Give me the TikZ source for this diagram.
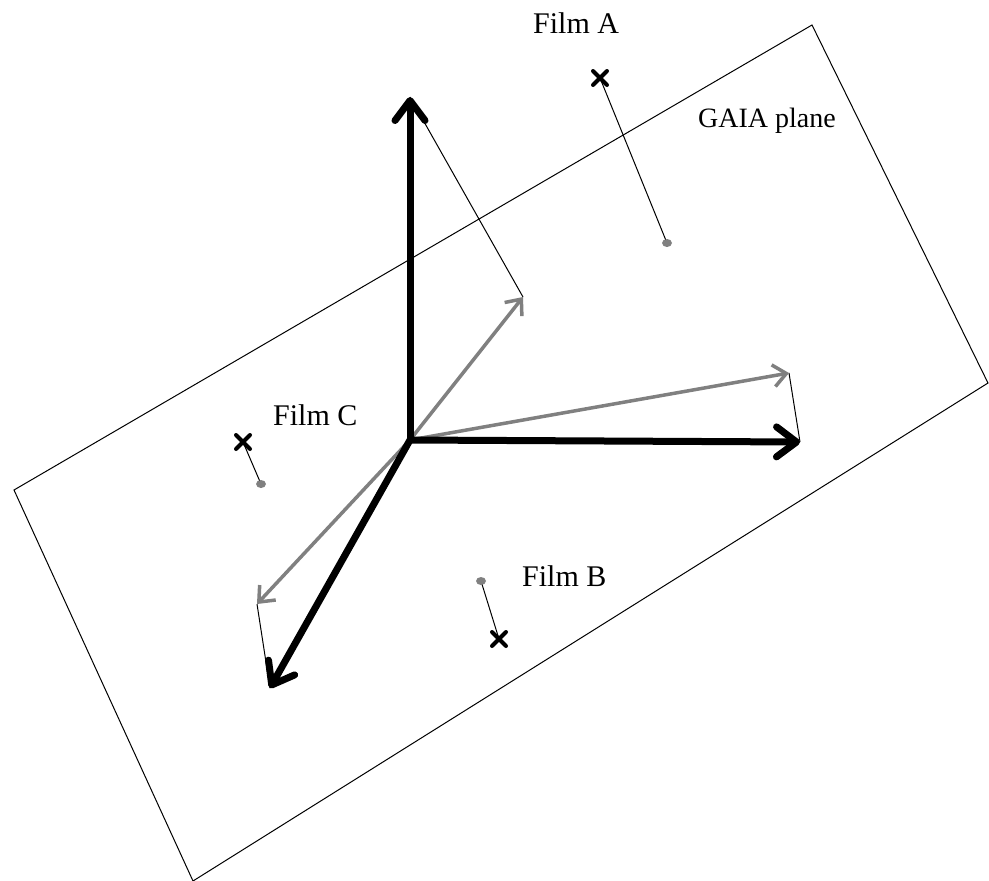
\documentclass[tikz,border=0pt]{standalone}
\usepackage{fontspec}
\setmainfont{Liberation Serif}
\usetikzlibrary{arrows.meta}
\definecolor{vecgray}{RGB}{128,128,128}
\begin{document}
\begin{tikzpicture}[x=1pt,y=-1pt,
  thickvec/.style={line width=7pt,black,-{Straight Barb[length=20pt,width=30pt,line cap=round,line join=round]}},
  grayvec/.style={line width=3.5pt,vecgray,-{Straight Barb[length=13pt,width=22pt]}},
  thin/.style={line width=1pt,black},
  plane/.style={line width=1pt,black},
  lbl/.style={anchor=base west,inner sep=0pt,font=\fontsize{30}{34}\selectfont},
  xmark/.style={line width=4pt,black,line cap=round},
]
\useasboundingbox (0,0) rectangle (989,881);
% GAIA plane
\coordinate (pl) at (14,490);
\coordinate (pt) at (812,25);
\coordinate (pr) at (988,383);
\coordinate (pb) at (193,881);
\draw[plane] (pl) -- (pt) -- (pr) -- (pb) -- cycle;
% vectors
\coordinate (O) at (410,440);
\coordinate (bu) at (410,97);
\coordinate (br) at (800,442);
\coordinate (bd) at (270,688);
\coordinate (gu) at (523,297);
\coordinate (gr) at (789,373);
\coordinate (gd) at (257,604);
\draw[thin] (bu) -- (gu);
\draw[thin] (gr) -- (br);
\draw[thin] (gd) -- (bd);
\draw[grayvec] (O) -- (gu);
\draw[grayvec] (O) -- (gr);
\draw[grayvec] (O) -- (gd);
\draw[thickvec] (O) -- (bu);
\draw[thickvec] (O) -- (br);
\draw[thickvec] (O) -- (bd);
% films
\coordinate (xa) at (600,78);
\coordinate (da) at (667,243);
\coordinate (xc) at (243,442);
\coordinate (dc) at (261,484);
\coordinate (xb) at (499,639);
\coordinate (db) at (481,581);
\draw[thin] (xa) -- (da);
\draw[thin] (xc) -- (dc);
\draw[thin] (xb) -- (db);
\foreach \p in {da,dc,db}{\fill[vecgray] (\p) ellipse (5pt and 4pt);}
\foreach \p in {xa,xc,xb}{
  \draw[xmark] ([shift={(-7,-7)}]\p) -- ([shift={(7,7)}]\p);
  \draw[xmark] ([shift={(-7,7)}]\p) -- ([shift={(7,-7)}]\p);
}
% labels
\node[lbl] (la) at (533,33) {Film A};
\node[lbl] (lc) at (273,425) {Film C};
\node[lbl] (lb) at (522,586) {Film B};
\node[lbl,font=\fontsize{28}{32}\selectfont] (lg) at (698,127) {GAIA plane};
\end{tikzpicture}
\end{document}
